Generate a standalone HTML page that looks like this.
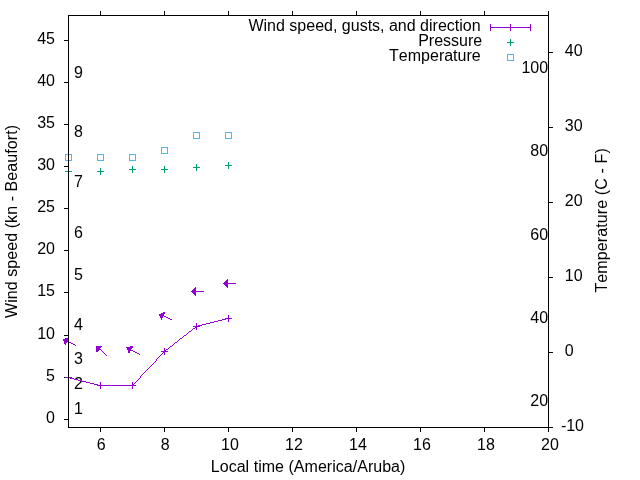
<!DOCTYPE html>
<html><head><meta charset="utf-8"><title>Wind speed, gusts, and direction</title>
<style>html,body{margin:0;padding:0;background:#fff;}svg{display:block;will-change:transform;}path,rect,polyline,polygon,line{shape-rendering:crispEdges;}text{font-family:"Liberation Sans",sans-serif;font-size:16px;fill:#000;font-kerning:none;}</style></head><body>
<svg width="640" height="480" viewBox="0 0 640 480">
<rect x="0" y="0" width="640" height="480" fill="#fff"/>
<path stroke="#000" stroke-width="1" fill="none" d="M100.5 427.5v4.5M100.5 15.5v-4.5M164.5 427.5v4.5M164.5 15.5v-4.5M228.5 427.5v4.5M228.5 15.5v-4.5M292.5 427.5v4.5M292.5 15.5v-4.5M356.5 427.5v4.5M356.5 15.5v-4.5M420.5 427.5v4.5M420.5 15.5v-4.5M484.5 427.5v4.5M484.5 15.5v-4.5M548.5 427.5v4.5M548.5 15.5v-4.5M68.5 419.5h-4.5M68.5 377.5h-4.5M68.5 335.5h-4.5M68.5 292.5h-4.5M68.5 250.5h-4.5M68.5 208.5h-4.5M68.5 166.5h-4.5M68.5 124.5h-4.5M68.5 82.5h-4.5M68.5 40.5h-4.5M548.5 427.5h4.5M548.5 352.5h4.5M548.5 277.5h4.5M548.5 202.5h4.5M548.5 127.5h4.5M548.5 52.5h4.5"/>
<text x="74" y="414" text-anchor="start">1</text>
<text x="74" y="389" text-anchor="start">2</text>
<text x="74" y="364" text-anchor="start">3</text>
<text x="74" y="330" text-anchor="start">4</text>
<text x="74" y="280" text-anchor="start">5</text>
<text x="74" y="238" text-anchor="start">6</text>
<text x="74" y="187" text-anchor="start">7</text>
<text x="74" y="137" text-anchor="start">8</text>
<text x="74" y="78" text-anchor="start">9</text>
<g stroke="#9400d3" stroke-width="1" fill="none">
<path stroke="none" fill="#9400d3" d="M223 283h13v1h-13zM191 291h13v1h-13zM161 314h1v1h-1zM162 315h2v1h-2zM164 316h2v1h-2zM166 317h2v1h-2zM168 318h2v1h-2zM226 318h3v1h-3zM170 319h2v1h-2zM222 319h4v1h-4zM218 320h4v1h-4zM214 321h4v1h-4zM210 322h4v1h-4zM206 323h4v1h-4zM202 324h4v1h-4zM198 325h4v1h-4zM196 326h2v1h-2zM195 327h1v1h-1zM193 328h2v1h-2zM192 329h1v1h-1zM191 330h1v1h-1zM189 331h2v1h-2zM188 332h1v1h-1zM187 333h1v1h-1zM186 334h1v1h-1zM184 335h2v1h-2zM183 336h1v1h-1zM182 337h1v1h-1zM180 338h2v1h-2zM64 339h1v1h-1zM179 339h1v1h-1zM65 340h2v1h-2zM178 340h1v1h-1zM67 341h2v1h-2zM177 341h1v1h-1zM69 342h2v1h-2zM175 342h2v1h-2zM71 343h2v1h-2zM174 343h1v1h-1zM73 344h2v1h-2zM173 344h1v1h-1zM75 345h1v1h-1zM172 345h1v1h-1zM97 346h1v1h-1zM170 346h2v1h-2zM98 347h1v1h-1zM126 347h1v1h-1zM169 347h1v1h-1zM99 348h1v1h-1zM127 348h2v1h-2zM168 348h1v1h-1zM100 349h1v1h-1zM129 349h2v1h-2zM166 349h2v1h-2zM101 350h1v1h-1zM131 350h2v1h-2zM165 350h1v1h-1zM102 351h1v1h-1zM133 351h2v1h-2zM164 351h1v1h-1zM103 352h1v1h-1zM135 352h2v1h-2zM163 352h1v1h-1zM104 353h1v1h-1zM137 353h2v1h-2zM162 353h1v1h-1zM105 354h1v1h-1zM139 354h1v1h-1zM161 354h1v1h-1zM106 355h1v1h-1zM160 355h1v1h-1zM159 356h1v1h-1zM158 357h1v1h-1zM157 358h1v1h-1zM156 359h1v1h-1zM156 360h1v1h-1zM155 361h1v1h-1zM154 362h1v1h-1zM153 363h1v1h-1zM152 364h1v1h-1zM151 365h1v1h-1zM150 366h1v1h-1zM149 367h1v1h-1zM148 368h1v1h-1zM147 369h1v1h-1zM146 370h1v1h-1zM145 371h1v1h-1zM144 372h1v1h-1zM143 373h1v1h-1zM142 374h1v1h-1zM141 375h1v1h-1zM140 376h1v1h-1zM68 377h2v1h-2zM140 377h1v1h-1zM70 378h4v1h-4zM139 378h1v1h-1zM74 379h4v1h-4zM138 379h1v1h-1zM78 380h4v1h-4zM137 380h1v1h-1zM82 381h4v1h-4zM136 381h1v1h-1zM86 382h4v1h-4zM135 382h1v1h-1zM90 383h4v1h-4zM134 383h1v1h-1zM94 384h4v1h-4zM133 384h1v1h-1zM98 385h35v1h-35z"/>
<path d="M65.00 377.50H72.00M68.50 374.00V381.00"/>
<path d="M97.00 385.50H104.00M100.50 382.00V389.00"/>
<path d="M129.00 385.50H136.00M132.50 382.00V389.00"/>
<path d="M161.00 351.50H168.00M164.50 348.00V355.00"/>
<path d="M193.00 326.50H200.00M196.50 323.00V330.00"/>
<path d="M225.00 318.50H232.00M228.50 315.00V322.00"/>
</g>
<g stroke="#9400d3" stroke-width="1" fill="#9400d3" stroke-linejoin="round">
<path d="M63.40 339.60L65.24 344.68L68.48 337.76Z"/>
<path d="M96.40 346.60L96.81 351.98L101.78 346.19Z"/>
<path d="M127.50 347.60L128.90 352.82L132.72 346.20Z"/>
<path d="M159.60 314.40L161.51 319.45L164.65 312.49Z"/>
<path d="M191.50 291.50L195.32 295.32L195.32 287.68Z"/>
<path d="M223.60 283.50L227.42 287.32L227.42 279.68Z"/>
</g>
<g stroke="#009e73" stroke-width="1" fill="none">
<path d="M65.00 171.50H72.00M68.50 168.00V175.00"/>
<path d="M97.00 171.50H104.00M100.50 168.00V175.00"/>
<path d="M129.00 169.50H136.00M132.50 166.00V173.00"/>
<path d="M161.00 169.50H168.00M164.50 166.00V173.00"/>
<path d="M193.00 167.50H200.00M196.50 164.00V171.00"/>
<path d="M225.00 165.50H232.00M228.50 162.00V169.00"/>
</g>
<g stroke="#56b4e9" stroke-width="1" fill="none">
<rect x="65.50" y="154.50" width="6" height="6"/>
<rect x="97.50" y="154.50" width="6" height="6"/>
<rect x="129.50" y="154.50" width="6" height="6"/>
<rect x="161.50" y="147.50" width="6" height="6"/>
<rect x="193.50" y="132.50" width="6" height="6"/>
<rect x="225.50" y="132.50" width="6" height="6"/>
</g>
<g stroke="#9400d3" stroke-width="1" fill="none"><path d="M490 27.5H531M490.5 24V31M530.5 24V31M510.5 24V31"/></g>
<g stroke="#009e73" stroke-width="1" fill="none"><path d="M507 42.5H514M510.5 39V46"/></g>
<g stroke="#56b4e9" stroke-width="1" fill="none"><rect x="507.5" y="54.5" width="6" height="6"/></g>
<text x="480.6" y="30.5" text-anchor="end">Wind speed, gusts, and direction</text>
<text x="482.2" y="45.5" text-anchor="end">Pressure</text>
<text x="480.7" y="60.5" text-anchor="end">Temperature</text>
<g stroke="#000" stroke-width="1" fill="none">
<path d="M68.5 15.5V427.5H548.5V15.5Z"/>
</g>
<text x="101.3" y="450" text-anchor="middle">6</text>
<text x="165.3" y="450" text-anchor="middle">8</text>
<text x="229.9" y="450" text-anchor="middle">10</text>
<text x="293.9" y="450" text-anchor="middle">12</text>
<text x="357.9" y="450" text-anchor="middle">14</text>
<text x="421.9" y="450" text-anchor="middle">16</text>
<text x="485.9" y="450" text-anchor="middle">18</text>
<text x="549.9" y="450" text-anchor="middle">20</text>
<text x="55" y="423" text-anchor="end">0</text>
<text x="55" y="381" text-anchor="end">5</text>
<text x="55" y="339" text-anchor="end">10</text>
<text x="55" y="296" text-anchor="end">15</text>
<text x="55" y="254" text-anchor="end">20</text>
<text x="55" y="212" text-anchor="end">25</text>
<text x="55" y="170" text-anchor="end">30</text>
<text x="55" y="128" text-anchor="end">35</text>
<text x="55" y="86" text-anchor="end">40</text>
<text x="55" y="44" text-anchor="end">45</text>
<text x="560.9" y="431" text-anchor="start">-10</text>
<text x="564.8" y="356" text-anchor="start">0</text>
<text x="564.8" y="281" text-anchor="start">10</text>
<text x="564.8" y="206" text-anchor="start">20</text>
<text x="564.8" y="131" text-anchor="start">30</text>
<text x="564.8" y="56" text-anchor="start">40</text>
<text x="548.1" y="406" text-anchor="end">20</text>
<text x="548.1" y="323" text-anchor="end">40</text>
<text x="548.1" y="240" text-anchor="end">60</text>
<text x="548.1" y="156" text-anchor="end">80</text>
<text x="548.1" y="73" text-anchor="end">100</text>
<text x="308.1" y="471.5" text-anchor="middle" style="letter-spacing:0.03px">Local time (America/Aruba)</text>
<text transform="translate(16.5,221.5) rotate(-90)" text-anchor="middle" style="letter-spacing:0.073px">Wind speed (kn - Beaufort)</text>
<text transform="translate(606.5,220.35) rotate(-90)" text-anchor="middle" style="letter-spacing:0.12px">Temperature (C - F)</text>
</svg></body></html>
